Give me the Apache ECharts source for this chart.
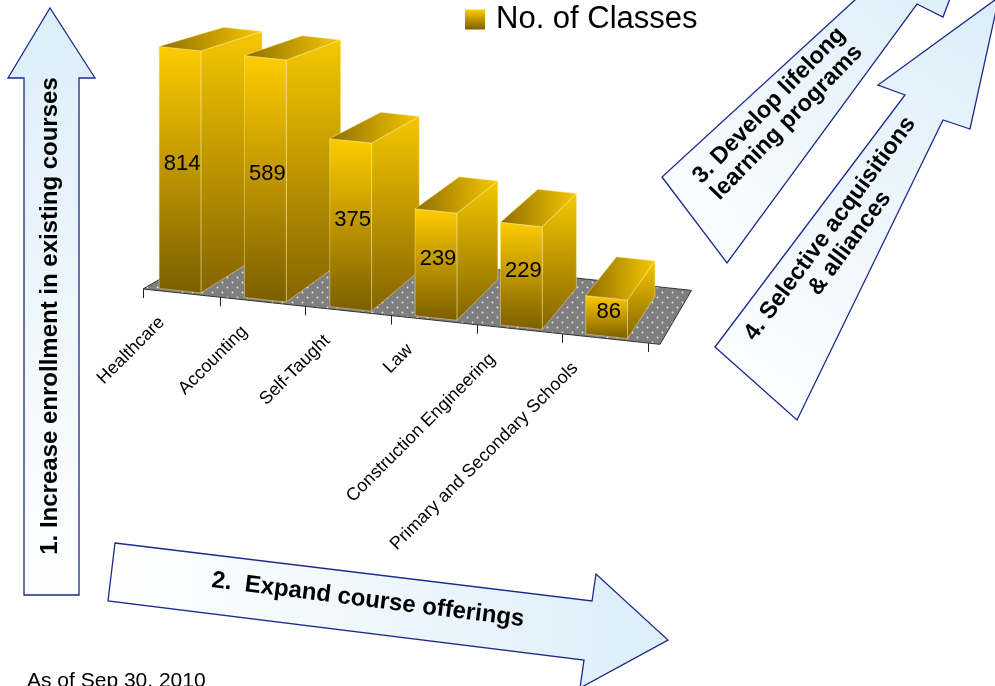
<!DOCTYPE html>
<html>
<head>
<meta charset="utf-8">
<script src="https://cdn.jsdelivr.net/npm/echarts@6/dist/echarts.min.js"></script>
<style>
  html, body { margin: 0; padding: 0; background: #fff; }
  #chart { width: 995px; height: 686px; }
</style>
</head>
<body>
<div id="chart"></div>
<script>
  // data
  var categories = ['Healthcare', 'Accounting', 'Self-Taught', 'Law', 'Construction Engineering', 'Primary and Secondary Schools'];
  var classCounts = [814, 589, 375, 239, 229, 86];
  var seriesName = 'No. of Classes';
  var yMax = 540;   // the two tallest bars are cut at the top of the plot, like in the original

  var FONT = '"Liberation Sans", Arial, sans-serif';
  // perspective: everything recedes toward this point
  var VP = [975, -195];
  var floorSlope = 0.107;
  var floorInset = 9;

  function toward(p, k) {
    return [p[0] + k * (VP[0] - p[0]), p[1] + k * (VP[1] - p[1])];
  }

  // gray dotted floor pattern
  var pat = document.createElement('canvas');
  pat.width = 10; pat.height = 10;
  var pc = pat.getContext('2d');
  pc.fillStyle = '#7f7f7f';
  pc.fillRect(0, 0, 10, 10);
  pc.fillStyle = '#e6e6e6';
  pc.beginPath(); pc.arc(2.5, 2.5, 0.9, 0, Math.PI * 2); pc.fill();
  pc.beginPath(); pc.arc(7.5, 7.5, 0.9, 0, Math.PI * 2); pc.fill();

  function grad(x2, y2, c0, c1) {
    return { type: 'linear', x: 0, y: 0, x2: x2, y2: y2,
      colorStops: [{ offset: 0, color: c0 }, { offset: 1, color: c1 }] };
  }

  function floorY(cs) {
    var baseY = cs.y + cs.height;
    var x0 = cs.x + floorInset;
    return function (x) { return baseY + floorSlope * (x - x0); };
  }

  function renderFloor(params, api) {
    var cs = params.coordSys;
    var fy = floorY(cs);
    var xa = cs.x + floorInset, xb = cs.x + cs.width + 12;
    var fl = [xa, fy(xa)];
    var fr = [xb, fy(xb)];
    var br = toward(fr, 0.1), bl = toward(fl, 0.1);
    var kids = [{
      type: 'polygon',
      shape: { points: [fl, fr, br, bl] },
      style: { fill: { image: pat, repeat: 'repeat' }, stroke: '#333', lineWidth: 1 }
    }];
    var band = cs.width / categories.length;
    var ticks = [xa];
    for (var i = 1; i < categories.length; i++) ticks.push(cs.x + i * band);
    ticks.push(cs.x + cs.width);
    ticks.forEach(function (t) {
      var x = Math.round(t) + 0.5;
      kids.push({
        type: 'line',
        shape: { x1: x, y1: fy(x), x2: x, y2: fy(x) + 9 },
        style: { stroke: '#222', lineWidth: 1 }
      });
    });
    return { type: 'group', children: kids };
  }

  function renderBar(params, api) {
    var i = api.value(0), v = api.value(1);
    var cs = params.coordSys;
    var fy = floorY(cs);
    var c = api.coord([i, 0]);
    var bw = api.size([1, 0])[0] * 0.49;
    var h = api.size([0, Math.min(v, yMax)])[1];
    var cx = c[0];
    var xl = cx - bw / 2, xr = cx + bw / 2;
    var BL = toward([xl, fy(xl)], 0.004), BR = toward([xr, fy(xr)], 0.004);
    var TL = [BL[0], BL[1] - h], TR = [BR[0], BR[1] - h];
    var k = 0.079;
    var TL2 = toward(TL, k), TR2 = toward(TR, k), BR2 = toward(BR, k);
    var edge = 'rgba(255,238,160,0.55)';
    var kids = [
      { type: 'polygon', shape: { points: [TR, TR2, BR2, BR] },
        style: { fill: grad(0, 1, '#F6C700', '#846500'), stroke: edge, lineWidth: 0.8 } },
      { type: 'polygon', shape: { points: [TL, TR, BR, BL] },
        style: { fill: grad(0, 1, '#FFCC00', '#7C5E00'), stroke: edge, lineWidth: 0.8 } },
      { type: 'polygon', shape: { points: [TL, TL2, TR2, TR] },
        style: { fill: grad(1, 0, '#8E6E00', '#F7C800'), stroke: edge, lineWidth: 0.8 } },
      { type: 'text', x: (TL[0] + TR[0]) / 2 + 2, y: (TL[1] + BL[1]) / 2 - 3,
        style: { text: String(v), align: 'center', verticalAlign: 'middle',
          fontSize: 22, fontFamily: FONT, fill: '#000' } },
      { type: 'text', x: cx - 15 - 3 * i, y: fy(cx) + 27, rotation: Math.PI / 4,
        style: { text: categories[i], align: 'right', verticalAlign: 'middle',
          fontSize: 18, fontFamily: FONT, fill: '#000' } }
    ];
    return { type: 'group', children: kids };
  }

  var arrowStroke = '#1B2A8C';
  function arrowFill(x, y, x2, y2) {
    return { type: 'linear', x: x, y: y, x2: x2, y2: y2,
      colorStops: [{ offset: 0, color: '#FFFFFF' }, { offset: 1, color: '#DCEEF9' }] };
  }
  function label(txt, x, y, rot, size) {
    return { type: 'text', x: x, y: y, rotation: rot, z: 10,
      style: { text: txt, align: 'center', verticalAlign: 'middle', fontSize: size,
        fontWeight: 'bold', fontFamily: FONT, fill: '#000', lineHeight: size + 1 } };
  }

  var chart = echarts.init(document.getElementById('chart'), null, { renderer: 'canvas' });
  chart.setOption({
    backgroundColor: '#fff',
    animation: false,
    legend: {
      data: [{ name: seriesName, icon: 'rect' }],
      left: 460, top: -1,
      itemWidth: 20, itemHeight: 20,
      selectedMode: false,
      textStyle: { fontSize: 31, fontFamily: FONT, color: '#000', padding: [0, 0, 0, 6] }
    },
    grid: { left: 134, width: 514, top: 47, height: 242 },
    xAxis: { type: 'category', data: categories, show: false },
    yAxis: { type: 'value', min: 0, max: yMax, show: false },
    series: [
      { type: 'custom', name: 'floor', renderItem: renderFloor, data: [[0, 0]], silent: true, z: 1 },
      {
        type: 'custom', name: seriesName, renderItem: renderBar, z: 2,
        itemStyle: { color: grad(0, 1, '#FFCC00', '#7C5E00') },
        encode: { x: 0, y: 1 },
        data: classCounts.map(function (v, i) { return [i, v]; })
      }
    ],
    graphic: [
      // 1. vertical arrow
      { type: 'polygon', shape: { points: [[24, 595], [79, 595], [79, 78], [95, 78], [50, 8], [8, 78], [24, 78]] },
        style: { fill: arrowFill(0, 1, 0, 0), stroke: arrowStroke, lineWidth: 1.3 } },
      label('1. Increase enrollment in existing courses', 50, 316, Math.PI / 2, 24),
      // 2. horizontal arrow
      { type: 'polygon', shape: { points: [[115, 543], [592, 601], [596, 574], [668, 640], [580, 688], [584, 660], [108, 601]] },
        style: { fill: arrowFill(0, 0, 1, 0), stroke: arrowStroke, lineWidth: 1.3 } },
      label('2.  Expand course offerings', 368, 600, -0.125, 24),
      // 3. upper right arrow
      { type: 'polygon', shape: { points: [[662, 177], [727, 263], [917, 4], [943, 17], [954, -12], [868, -12]] },
        style: { fill: arrowFill(0, 1, 1, 0), stroke: arrowStroke, lineWidth: 1.3 } },
      label('3. Develop lifelong\nlearning programs', 778, 114, 0.80, 23.5),
      // 4. lower right arrow
      { type: 'polygon', shape: { points: [[715, 347], [797, 420], [943, 120], [970, 129], [999, -3], [878, 85], [905, 95]] },
        style: { fill: arrowFill(0, 1, 1, 0), stroke: arrowStroke, lineWidth: 1.3 } },
      label('4. Selective acquisitions\n& alliances', 840, 236, 0.934, 23.5),
      // footnote
      { type: 'text', left: 27, top: 671,
        style: { text: 'As of Sep 30, 2010', fontSize: 21, fontFamily: FONT, fill: '#000' } }
    ]
  });
</script>
</body>
</html>
